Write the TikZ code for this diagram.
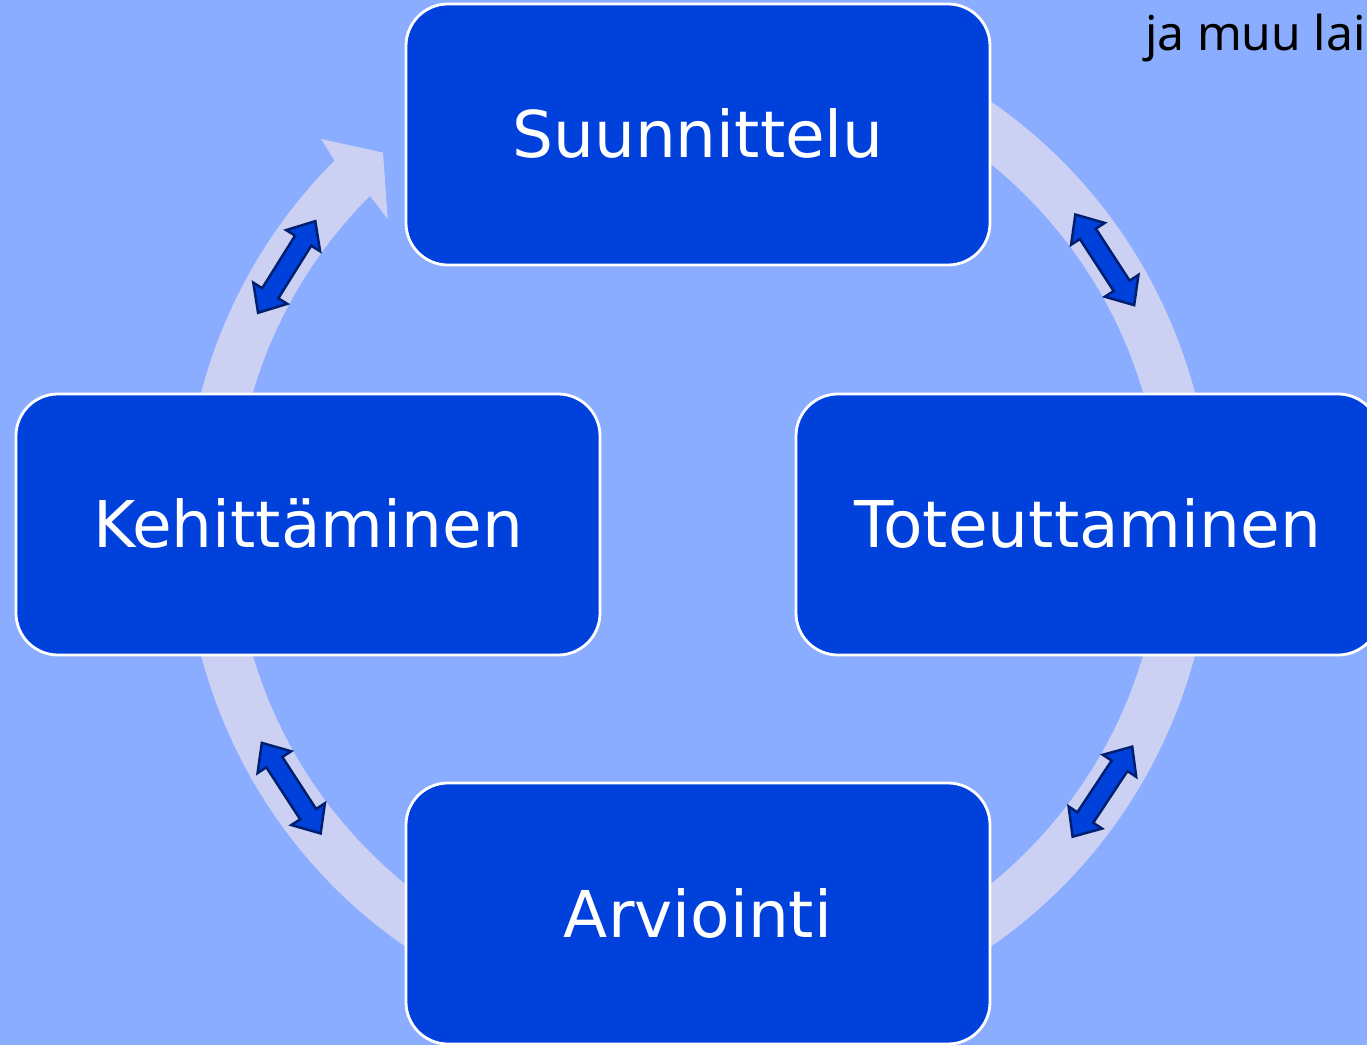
\documentclass[tikz,border=0pt]{standalone}
\usepackage{fontspec}
\newfontfamily\boxfont{DejaVu Sans}
\newfontfamily\notefont{Noto Sans}
\usetikzlibrary{calc}
\definecolor{bgblue}{HTML}{8AADFF}
\definecolor{boxblue}{HTML}{0041DC}
\definecolor{ringcol}{HTML}{CCD0F2}
\definecolor{navyline}{HTML}{001F6E}
\begin{document}
\begin{tikzpicture}[x=1pt,y=1pt,
  stagebox/.style={draw=white, line width=2.8pt, fill=boxblue, rounded corners=42pt,
    minimum width=584pt, minimum height=261pt, inner sep=0pt, text=white,
    font=\boxfont\fontsize{64.5}{77}\selectfont, text height=47pt, text depth=0pt},
  dblarrow/.style={fill=boxblue, draw=navyline, line width=2.5pt, line join=miter},
  ringshape/.style={fill=ringcol},
  notetext/.style={anchor=base west, inner sep=0pt, text=black,
    font=\notefont\fontsize{48}{57}\selectfont}]
\useasboundingbox (0,0) rectangle (1367,1045);
\fill[bgblue] (0,0) rectangle (1367,1045);
\coordinate (c) at (698,521);
% cycle ring with arrowhead
\fill[ringshape] ($(c)+(110:514)$) arc[start angle=110, end angle=-225, radius=514pt]
  -- ($(c)+(134.4:539)$) -- ($(c)+(130.3:487)$) -- ($(c)+(135.5:435)$)
  -- ($(c)+(135:464)$) arc[start angle=135, end angle=470, radius=464pt] -- cycle;
% stage boxes
\node[stagebox] (suun) at (698,910.5) {Suunnittelu};
\node[stagebox] (tote) at (1088,520.5) {Toteuttaminen};
\node[stagebox] (kehi) at (308,520.5) {Kehittäminen};
\node[stagebox] (arvi) at (698,131.5) {Arviointi};
% double arrows on the ring
\foreach \a in {33,-33.5,-147,148} {
  \begin{scope}[shift={(c)}, rotate=\a]
    \draw[dblarrow] (485,-54) -- (465,-31) -- (475.5,-31) -- (475.5,31) -- (465,31)
      -- (485,54) -- (505,31) -- (494.5,31) -- (494.5,-31) -- (505,-31) -- cycle;
  \end{scope}
}
\node[notetext] (note) at (1145,994) {ja muu lai};
\end{tikzpicture}
\end{document}
